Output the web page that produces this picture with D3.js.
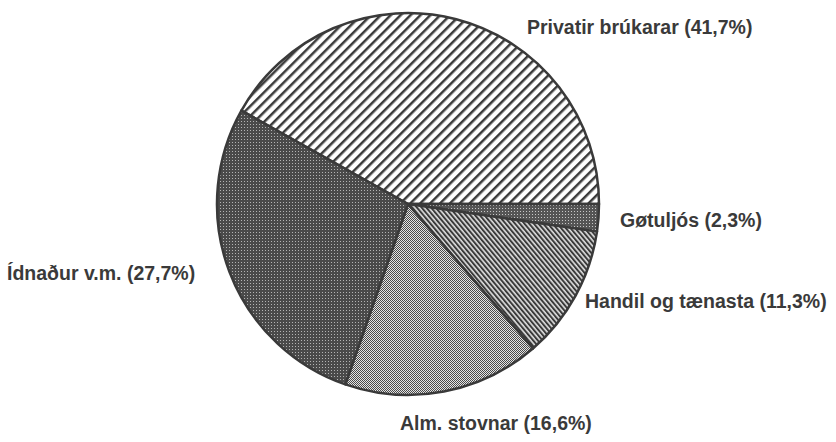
<!DOCTYPE html>
<html lang="fo">
<head>
  <meta charset="UTF-8">
  <title>Elnýtsla</title>
  <script src="https://d3js.org/d3.v7.min.js"></script>
  <style>
    html, body {
      margin: 0;
      padding: 0;
      background: #fff;
      overflow: hidden;
    }
    text {
      font-family: "Liberation Sans", Arial, sans-serif;
      font-weight: bold;
      font-size: 19.5px;
      fill: #3a3a3a;
    }
  </style>
</head>
<body>
  <svg id="chart" width="836" height="442"></svg>
  <script>
    // data
    const categories = ['Privatir brúkarar', 'Gøtuljós', 'Handil og tænasta', 'Alm. stovnar', 'Ídnaður v.m.'];
    const values = [41.7, 2.3, 11.3, 16.6, 27.7];

    // layout
    const cx = 408, cy = 204, radius = 191;
    const labelPos = [[527, 34], [620, 227], [585, 308], [400, 430], [7, 280]];
    const fills = ['url(#hatchUp)', 'url(#dotsDark2)', 'url(#hatchDown)', 'url(#checker)', 'url(#dotsDark)'];

    const svg = d3.select('#chart');
    const defs = svg.append('defs');

    // wide hatch, rising lines
    const hu = defs.append('pattern')
      .attr('id', 'hatchUp')
      .attr('patternUnits', 'userSpaceOnUse')
      .attr('width', 7).attr('height', 7)
      .attr('patternTransform', 'rotate(45)');
    hu.append('rect').attr('width', 7).attr('height', 7).attr('fill', '#fff');
    hu.append('rect').attr('width', 2.5).attr('height', 7).attr('fill', '#3a3a3a');

    // fine hatch, falling lines
    const hd = defs.append('pattern')
      .attr('id', 'hatchDown')
      .attr('patternUnits', 'userSpaceOnUse')
      .attr('width', 3.6).attr('height', 3.6)
      .attr('patternTransform', 'rotate(-40)');
    hd.append('rect').attr('width', 3.6).attr('height', 3.6).attr('fill', '#e0e0e0');
    hd.append('rect').attr('width', 2).attr('height', 3.6).attr('fill', '#3a3a3a');

    // dark stipple
    const dd = defs.append('pattern')
      .attr('id', 'dotsDark')
      .attr('patternUnits', 'userSpaceOnUse')
      .attr('width', 3).attr('height', 3);
    dd.append('rect').attr('width', 3).attr('height', 3).attr('fill', '#4a4a4a');
    dd.append('rect').attr('x', 1).attr('y', 1).attr('width', 1).attr('height', 1).attr('fill', '#b4b4b4');

    const dd2 = defs.append('pattern')
      .attr('id', 'dotsDark2')
      .attr('patternUnits', 'userSpaceOnUse')
      .attr('width', 3).attr('height', 3);
    dd2.append('rect').attr('width', 3).attr('height', 3).attr('fill', '#555');
    dd2.append('rect').attr('x', 1).attr('y', 1).attr('width', 1).attr('height', 1).attr('fill', '#c8c8c8');

    // light checker
    const ck = defs.append('pattern')
      .attr('id', 'checker')
      .attr('patternUnits', 'userSpaceOnUse')
      .attr('width', 2).attr('height', 2);
    ck.append('rect').attr('width', 2).attr('height', 2).attr('fill', '#e4e4e4');
    ck.append('rect').attr('width', 1).attr('height', 1).attr('fill', '#4a4a4a');
    ck.append('rect').attr('x', 1).attr('y', 1).attr('width', 1).attr('height', 1).attr('fill', '#4a4a4a');

    // first slice ends at 3 o'clock
    const total = d3.sum(values);
    const start = Math.PI / 2 - 2 * Math.PI * values[0] / total;

    const pie = d3.pie()
      .sort(null)
      .startAngle(start)
      .endAngle(start + 2 * Math.PI);

    const arc = d3.arc().innerRadius(0).outerRadius(radius);

    const g = svg.append('g').attr('transform', `translate(${cx},${cy})`);

    g.selectAll('path')
      .data(pie(values))
      .join('path')
      .attr('d', arc)
      .attr('fill', (d, i) => fills[i])
      .attr('stroke', '#3a3a3a')
      .attr('stroke-width', 2.5)
      .attr('stroke-linejoin', 'round');

    const fmt = v => v.toFixed(1).replace('.', ',');

    svg.selectAll('text.lbl')
      .data(categories)
      .join('text')
      .attr('class', 'lbl')
      .attr('x', (d, i) => labelPos[i][0])
      .attr('y', (d, i) => labelPos[i][1])
      .text((d, i) => `${d} (${fmt(values[i])}%)`);
  </script>
</body>
</html>
